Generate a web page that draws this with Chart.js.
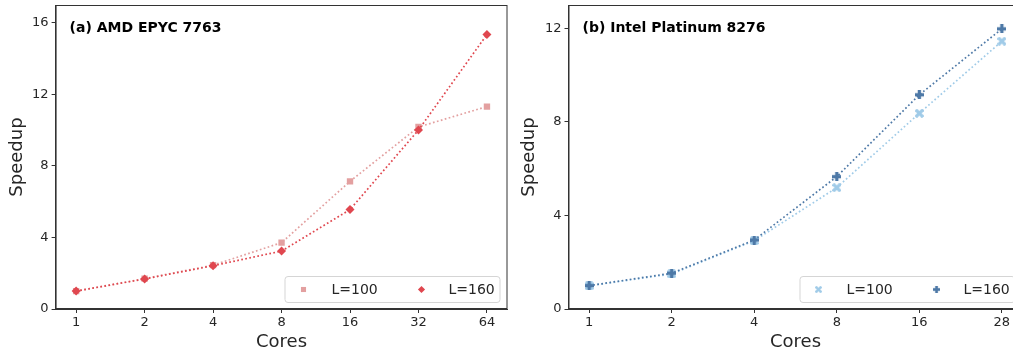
<!DOCTYPE html>
<html>
<head>
<meta charset="utf-8">
<script src="https://cdn.jsdelivr.net/npm/chart.js@4.4.0/dist/chart.umd.min.js"></script>
<style>
  html, body { margin: 0; padding: 0; background: #fff; overflow: hidden; }
  body { width: 1013px; height: 351px; position: relative; }
  canvas { position: absolute; top: 0; }
  #chartA { left: 0; }
  #chartB { left: 512px; }
</style>
</head>
<body>
<canvas id="chartA" width="512" height="351"></canvas>
<canvas id="chartB" width="520" height="351"></canvas>
<script>
// data
const coresA = ['1', '2', '4', '8', '16', '32', '64'];
const amdL100 = [1.0, 1.7, 2.45, 3.71, 7.14, 10.18, 11.32];
const amdL160 = [1.0, 1.68, 2.42, 3.24, 5.56, 10.01, 15.35];

const coresB = ['1', '2', '4', '8', '16', '28'];
const intelL100 = [0.99, 1.5, 2.92, 5.19, 8.37, 11.45];
const intelL160 = [1.0, 1.53, 2.95, 5.66, 9.16, 11.98];

const yTicksA = [0, 4, 8, 12, 16];
const yTicksB = [0, 4, 8, 12];

const FONT = "'DejaVu Sans', sans-serif";
const INK = '#262626';

// filled X and filled plus markers (matplotlib "X" / "P")
function makeMarker(kind, color, size) {
  const c = document.createElement('canvas');
  c.width = size; c.height = size;
  const g = c.getContext('2d');
  g.fillStyle = color;
  const m = size / 2, t = size / 6;
  g.translate(m, m);
  if (kind === 'x') g.rotate(Math.PI / 4);
  const a = kind === 'x' ? m * 1.15 : m;
  g.fillRect(-a, -t * 1.1, 2 * a, t * 2.2);
  g.fillRect(-t * 1.1, -a, t * 2.2, 2 * a);
  return c;
}

function toPoints(values) {
  return values.map((v, i) => ({ x: i, y: v }));
}

function drawMarker(ctx, style, color, x, y, r) {
  ctx.save();
  ctx.fillStyle = color;
  if (style instanceof HTMLCanvasElement) {
    const s = style.width * r / 4.5;
    ctx.drawImage(style, x - s / 2, y - s / 2, s, s);
  } else if (style === 'rect') {
    const h = r * Math.SQRT1_2;
    ctx.fillRect(x - h, y - h, 2 * h, 2 * h);
  } else if (style === 'rectRot') {
    ctx.beginPath();
    ctx.moveTo(x, y - r); ctx.lineTo(x + r, y); ctx.lineTo(x, y + r); ctx.lineTo(x - r, y);
    ctx.closePath(); ctx.fill();
  }
  ctx.restore();
}

// frame, panel title and boxed legend in the lower right corner
const decorations = {
  id: 'decorations',
  afterDatasetsDraw(chart, args, opts) {
    const ctx = chart.ctx;
    const a = chart.chartArea;
    ctx.save();
    ctx.strokeStyle = '#333';
    ctx.lineWidth = 1;
    ctx.strokeRect(a.left + 0.5, a.top + 0.5, a.right - a.left - 1, a.bottom - a.top - 1);

    ctx.fillStyle = '#000';
    ctx.font = 'bold 14px ' + FONT;
    ctx.textBaseline = 'alphabetic';
    ctx.fillText(opts.title, a.left + 14, 32);

    const w = 215, h = 26;
    const bx = a.right - 8 - w, by = a.bottom - 7 - h;
    ctx.beginPath();
    ctx.roundRect(bx + 0.5, by + 0.5, w, h, 3);
    ctx.fillStyle = 'rgba(255,255,255,0.85)';
    ctx.fill();
    ctx.strokeStyle = '#d5d5d5';
    ctx.stroke();

    const offs = [[19, 47], [137, 164]];
    chart.data.datasets.forEach((ds, i) => {
      const cy = by + h / 2 + 0.5;
      drawMarker(ctx, ds.pointStyle, ds.pointBackgroundColor, bx + offs[i][0], cy, 3.6);
      ctx.fillStyle = INK;
      ctx.font = '14px ' + FONT;
      ctx.textBaseline = 'middle';
      ctx.fillText(ds.label, bx + offs[i][1], cy + 1);
    });
    ctx.restore();
  }
};

function makeDataset(label, values, color, style, order) {
  return {
    label: label,
    data: toPoints(values),
    borderColor: color,
    backgroundColor: color,
    pointBackgroundColor: color,
    pointBorderColor: color,
    pointBorderWidth: 0,
    pointStyle: style,
    pointRadius: 4.5,
    pointHoverRadius: 4.5,
    borderWidth: 1.7,
    borderDash: [1.7, 2.4],
    tension: 0,
    order: order
  };
}

function noPad(s) {
  s.paddingLeft = 0; s.paddingRight = 0; s.paddingTop = 0; s.paddingBottom = 0;
}

function drawPanel(canvasId, labels, datasets, yMax, yTicks, xMargin, yWidth, padRight, title) {
  const ctx = document.getElementById(canvasId).getContext('2d');
  return new Chart(ctx, {
    type: 'line',
    data: { datasets: datasets },
    plugins: [decorations],
    options: {
      responsive: false,
      animation: false,
      events: [],
      layout: { padding: { left: 0, right: padRight, top: 5, bottom: 0 } },
      plugins: {
        legend: { display: false },
        tooltip: { enabled: false },
        decorations: { title: title }
      },
      scales: {
        x: {
          type: 'linear',
          min: -xMargin,
          max: labels.length - 1 + xMargin,
          afterBuildTicks: s => { s.ticks = labels.map((l, i) => ({ value: i })); },
          afterFit: s => { s.height = 42; noPad(s); },
          ticks: {
            callback: v => labels[v],
            color: INK,
            font: { family: FONT, size: 13 },
            padding: 2,
            maxRotation: 0,
            autoSkip: false
          },
          grid: { display: true, drawOnChartArea: false, drawTicks: true, tickLength: 4, color: '#333' },
          border: { display: true, color: '#333' },
          title: {
            display: true,
            text: 'Cores',
            color: INK,
            font: { family: FONT, size: 18 },
            padding: { top: 0, bottom: -2 }
          }
        },
        y: {
          min: 0,
          max: yMax,
          afterBuildTicks: s => { s.ticks = yTicks.map(v => ({ value: v })); },
          afterFit: s => { s.width = yWidth; noPad(s); },
          ticks: {
            color: INK,
            font: { family: FONT, size: 13 },
            padding: 3
          },
          grid: { display: true, drawOnChartArea: false, drawTicks: true, tickLength: 4, color: '#333' },
          border: { display: true, color: '#333' },
          title: {
            display: true,
            text: 'Speedup',
            color: INK,
            font: { family: FONT, size: 18 },
            padding: { top: 7, bottom: 0 }
          }
        }
      }
    }
  });
}

const redLight = '#e3a0a0';
const redDark = '#e0474f';
const blueLight = '#a0cbe8';
const blueDark = '#4e79a7';

drawPanel('chartA', coresA, [
  makeDataset('L=100', amdL100, redLight, 'rect', 2),
  makeDataset('L=160', amdL160, redDark, 'rectRot', 1)
], 17, yTicksA, 0.3, 55.6, 1, '(a) AMD EPYC 7763');

drawPanel('chartB', coresB, [
  makeDataset('L=100', intelL100, blueLight, makeMarker('x', blueLight, 9), 2),
  makeDataset('L=160', intelL160, blueDark, makeMarker('p', blueDark, 9), 1)
], 13, yTicksB, 0.25, 56.5, 9.5, '(b) Intel Platinum 8276');
</script>
</body>
</html>
